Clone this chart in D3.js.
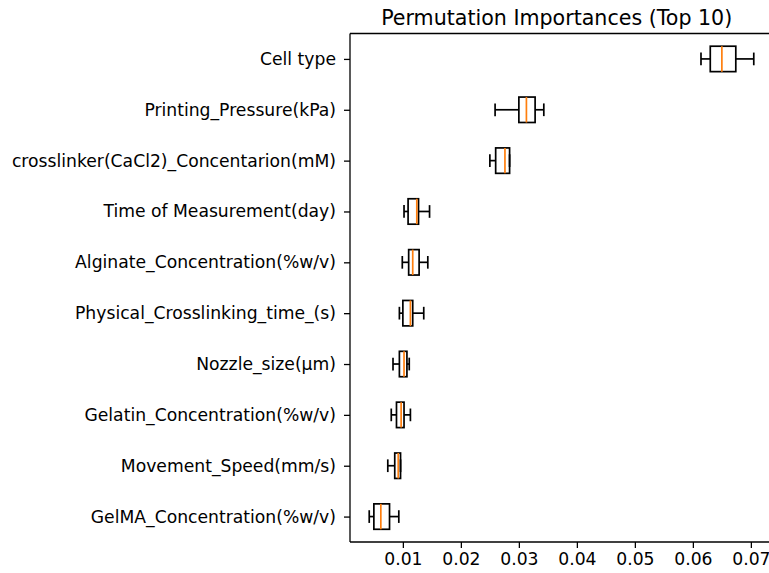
<!DOCTYPE html>
<html>
<head>
<meta charset="utf-8">
<script src="https://cdn.jsdelivr.net/npm/d3@7"></script>
<style>
  html, body { margin: 0; padding: 0; background: #fff; }
  svg { display: block; }
  text { font-family: "DejaVu Sans", sans-serif; fill: #000; }
</style>
</head>
<body>
<svg id="chart" width="769" height="573"></svg>
<script>
// Feature names, top to bottom
const features = [
  "Cell type",
  "Printing_Pressure(kPa)",
  "crosslinker(CaCl2)_Concentarion(mM)",
  "Time of Measurement(day)",
  "Alginate_Concentration(%w/v)",
  "Physical_Crosslinking_time_(s)",
  "Nozzle_size(\u00b5m)",
  "Gelatin_Concentration(%w/v)",
  "Movement_Speed(mm/s)",
  "GelMA_Concentration(%w/v)"
];
// Box-plot statistics of permutation importance per feature
const whiskerLow  = [0.0614, 0.0259, 0.0250, 0.0102, 0.0099, 0.0094, 0.0083, 0.0080, 0.0074, 0.0042];
const q1          = [0.0630, 0.0300, 0.0260, 0.0109, 0.0110, 0.0100, 0.0094, 0.0089, 0.0086, 0.0050];
const median      = [0.0650, 0.0313, 0.0276, 0.0124, 0.0117, 0.0113, 0.0102, 0.0097, 0.0092, 0.0062];
const q3          = [0.0674, 0.0328, 0.0284, 0.0127, 0.0128, 0.0117, 0.0107, 0.0102, 0.0096, 0.0077];
const whiskerHigh = [0.0705, 0.0343, 0.0284, 0.0146, 0.0143, 0.0136, 0.0111, 0.0113, 0.0096, 0.0093];
const xTicks = [0.01, 0.02, 0.03, 0.04, 0.05, 0.06, 0.07];
const title = "Permutation Importances (Top 10)";

const rows = features.map((name, i) => ({
  name, pos: features.length - i,
  lo: whiskerLow[i], q1: q1[i], med: median[i], q3: q3[i], hi: whiskerHigh[i]
}));

const plotLeft = 350, plotRight = 773, plotTop = 33.5, plotBottom = 542;
const svg = d3.select("#chart");

// 5% padding on both sides of the data range
const xmin = d3.min(whiskerLow), xmax = d3.max(whiskerHigh);
const pad = (xmax - xmin) * 0.05;
const x = d3.scaleLinear().domain([xmin - pad, xmax + pad]).range([plotLeft, plotRight]);
const y = d3.scaleLinear().domain([0.5, features.length + 0.5]).range([plotBottom, plotTop]);

const boxHalf = (y(0) - y(0.25));
const capHalf = (y(0) - y(0.125));

const g = svg.append("g");
const lw = 1.7;

const boxes = g.selectAll("g.box").data(rows).join("g").attr("class", "box");
// whiskers
boxes.append("line")
  .attr("x1", d => x(d.lo)).attr("x2", d => x(d.q1))
  .attr("y1", d => y(d.pos)).attr("y2", d => y(d.pos))
  .attr("stroke", "#000").attr("stroke-width", lw);
boxes.append("line")
  .attr("x1", d => x(d.q3)).attr("x2", d => x(d.hi))
  .attr("y1", d => y(d.pos)).attr("y2", d => y(d.pos))
  .attr("stroke", "#000").attr("stroke-width", lw);
// caps
boxes.append("line")
  .attr("x1", d => x(d.lo)).attr("x2", d => x(d.lo))
  .attr("y1", d => y(d.pos) - capHalf).attr("y2", d => y(d.pos) + capHalf)
  .attr("stroke", "#000").attr("stroke-width", lw);
boxes.append("line")
  .attr("x1", d => x(d.hi)).attr("x2", d => x(d.hi))
  .attr("y1", d => y(d.pos) - capHalf).attr("y2", d => y(d.pos) + capHalf)
  .attr("stroke", "#000").attr("stroke-width", lw);
// box
boxes.append("rect")
  .attr("x", d => x(d.q1)).attr("width", d => x(d.q3) - x(d.q1))
  .attr("y", d => y(d.pos) - boxHalf).attr("height", 2 * boxHalf)
  .attr("fill", "none").attr("stroke", "#000").attr("stroke-width", lw);
// median
boxes.append("line")
  .attr("x1", d => x(d.med)).attr("x2", d => x(d.med))
  .attr("y1", d => y(d.pos) - boxHalf).attr("y2", d => y(d.pos) + boxHalf)
  .attr("stroke", "#ff7f0e").attr("stroke-width", lw);

// axes
const xAxis = d3.axisBottom(x).tickValues(xTicks).tickFormat(d3.format(".2f")).tickSize(6).tickPadding(5);
const gx = svg.append("g").attr("transform", `translate(0,${plotBottom})`).call(xAxis);
gx.select(".domain").remove();
gx.selectAll(".tick line").attr("stroke", "#000").attr("stroke-width", 1.3);
gx.selectAll(".tick text").attr("font-size", 17.2).attr("font-family", "DejaVu Sans").attr("fill", "#000");

const yAxis = d3.axisLeft(y).tickValues(rows.map(d => d.pos))
  .tickFormat(p => rows.find(r => r.pos === p).name).tickSize(6).tickPadding(8);
const gy = svg.append("g").attr("transform", `translate(${plotLeft},0)`).call(yAxis);
gy.select(".domain").remove();
gy.selectAll(".tick line").attr("stroke", "#000").attr("stroke-width", 1.3);
gy.selectAll(".tick text").attr("font-size", 17.2).attr("font-family", "DejaVu Sans").attr("fill", "#000");

// spines
const spine = svg.append("g").attr("stroke", "#000").attr("stroke-width", 1.3).attr("fill", "none");
spine.append("line").attr("x1", plotLeft).attr("x2", plotLeft).attr("y1", plotTop).attr("y2", plotBottom);
spine.append("line").attr("x1", plotLeft).attr("x2", plotRight).attr("y1", plotBottom).attr("y2", plotBottom);
spine.append("line").attr("x1", plotLeft).attr("x2", plotRight).attr("y1", plotTop).attr("y2", plotTop);
spine.append("line").attr("x1", plotRight).attr("x2", plotRight).attr("y1", plotTop).attr("y2", plotBottom);

// title
svg.append("text").attr("x", 556.7).attr("y", 25)
  .attr("text-anchor", "middle").attr("font-size", 20.6).text(title);
</script>
</body>
</html>
